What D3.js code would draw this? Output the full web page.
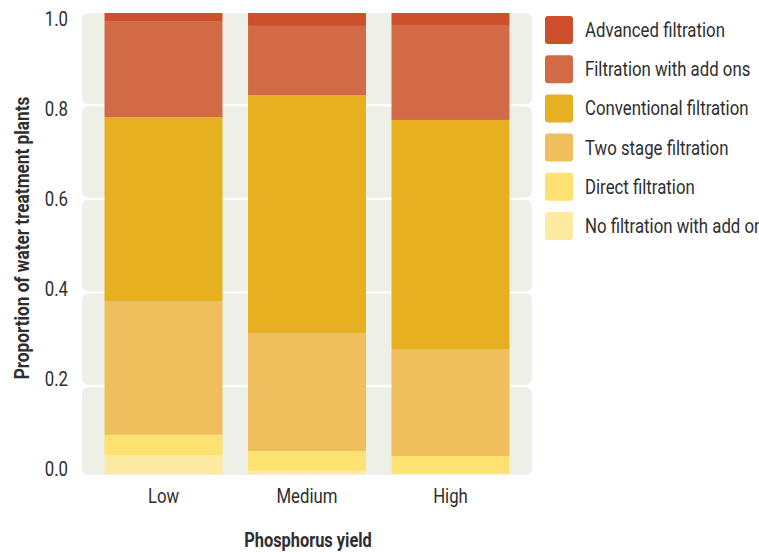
<!DOCTYPE html>
<html>
<head>
<meta charset="utf-8">
<script src="https://cdn.jsdelivr.net/npm/d3@7"></script>
<style>
  html, body { margin: 0; padding: 0; background: #ffffff; overflow: hidden; }
  svg { display: block; }
  text { font-family: Roboto, "Noto Sans", sans-serif; fill: #2e2e2e; }
</style>
</head>
<body>
<svg id="chart" width="759" height="552"></svg>
<script>
// ---- Data ----
const categories = ["Low", "Medium", "High"];
const seriesNames = [
  "No filtration with add ons",
  "Direct filtration",
  "Two stage filtration",
  "Conventional filtration",
  "Filtration with add ons",
  "Advanced filtration"
];
const noFiltrationAddOns = [0.041, 0.007, 0.001];
const directFiltration   = [0.044, 0.043, 0.038];
const twoStageFiltration = [0.290, 0.256, 0.232];
const conventionalFiltr  = [0.399, 0.516, 0.497];
const filtrationAddOns   = [0.207, 0.150, 0.206];
const advancedFiltration = [0.019, 0.028, 0.026];
const yTicks = [0, 0.2, 0.4, 0.6, 0.8, 1.0];
const seriesColors = ["#feeba2", "#fde272", "#eebf5c", "#e6b020", "#d36a46", "#cd4f2b"];
const xTitle = "Phosphorus yield";
const yTitle = "Proportion of water treatment plants";

// ---- Build table ----
const seriesValues = [noFiltrationAddOns, directFiltration, twoStageFiltration,
                      conventionalFiltr, filtrationAddOns, advancedFiltration];
const table = categories.map((c, i) => {
  const row = { category: c };
  seriesNames.forEach((s, j) => { row[s] = seriesValues[j][i]; });
  return row;
});
const stacked = d3.stack().keys(seriesNames)(table);

// ---- Layout ----
const svg = d3.select("#chart");
const panel = { left: 82, right: 532, top: 13, bottom: 475 };
const K = 0.84;  // horizontal condensing of regular text
const KB = 0.82; // horizontal condensing of bold titles

const x = d3.scaleBand().domain(categories)
  .range([panel.left, panel.right]).paddingInner(0.178).paddingOuter(0.157);
const y = d3.scaleLinear().domain([0, 1]).range([474, 13]);
const yGrid = d3.scaleLinear().domain([0, 1]).range([479.5, 11.7]);
const yLabel = d3.scaleLinear().domain([0, 1]).range([469.5, 19.5]);
const color = d3.scaleOrdinal().domain(seriesNames).range(seriesColors);

// ---- Panel background: rounded bands between breaks ----
const bands = d3.pairs(yTicks);
svg.append("g").selectAll("rect").data(bands).join("rect")
  .attr("x", panel.left)
  .attr("width", panel.right - panel.left)
  .attr("y", d => Math.max(panel.top, yGrid(d[1]) + 1.2))
  .attr("height", d => Math.min(panel.bottom, yGrid(d[0]) - 1.2) - Math.max(panel.top, yGrid(d[1]) + 1.2))
  .attr("rx", 6).attr("ry", 6)
  .attr("fill", "#eeefe6");

// ---- Bars ----
svg.append("g").selectAll("g").data(stacked).join("g")
  .attr("fill", d => color(d.key))
  .selectAll("rect").data(d => d).join("rect")
  .attr("x", d => x(d.data.category))
  .attr("width", x.bandwidth())
  .attr("y", d => y(d[1]))
  .attr("height", d => y(d[0]) - y(d[1]));

// ---- Y axis labels ----
const yAxis = svg.append("g")
  .attr("transform", `translate(68,0)`)
  .call(d3.axisLeft(yLabel).tickValues(yTicks).tickFormat(d3.format(".1f")).tickSize(0).tickPadding(0));
yAxis.select(".domain").remove();
yAxis.selectAll("text").attr("font-size", 20).attr("fill", "#333")
  .style("font-family", 'Roboto, sans-serif')
  .attr("transform", `scale(${K},1)`);

// ---- X axis labels ----
const xAxis = svg.append("g")
  .attr("transform", `translate(0,489)`)
  .call(d3.axisBottom(x).tickSize(0).tickPadding(0));
xAxis.select(".domain").remove();
xAxis.selectAll("text").attr("font-size", 20).attr("fill", "#333")
  .style("font-family", 'Roboto, sans-serif')
  .attr("transform", `scale(${K},1)`);

// ---- Axis titles ----
svg.append("text")
  .attr("transform", `translate(${(panel.left + panel.right) / 2 + 1},547) scale(${KB},1)`)
  .attr("text-anchor", "middle")
  .attr("font-size", 20).attr("font-weight", "bold")
  .attr("fill", "#222")
  .text(xTitle);

svg.append("text")
  .attr("transform", `translate(29,${(panel.top + panel.bottom) / 2 - 6}) rotate(-90) scale(${KB},1)`)
  .attr("text-anchor", "middle")
  .attr("font-size", 21).attr("font-weight", "bold")
  .attr("fill", "#222")
  .text(yTitle);

// ---- Legend (top item = last series) ----
const legendItems = seriesNames.slice().reverse();
const legendY = d3.scalePoint().domain(legendItems).range([30, 226]);
const legend = svg.append("g").selectAll("g").data(legendItems).join("g")
  .attr("transform", d => `translate(545,${legendY(d)})`);
legend.append("rect")
  .attr("x", 0).attr("y", -14).attr("width", 28).attr("height", 28)
  .attr("rx", 3).attr("ry", 3)
  .attr("fill", d => color(d));
legend.append("text")
  .attr("transform", `translate(40,0) scale(${K},1)`)
  .attr("dy", "0.35em")
  .attr("font-size", 20).attr("fill", "#333")
  .text(d => d);
</script>
</body>
</html>
